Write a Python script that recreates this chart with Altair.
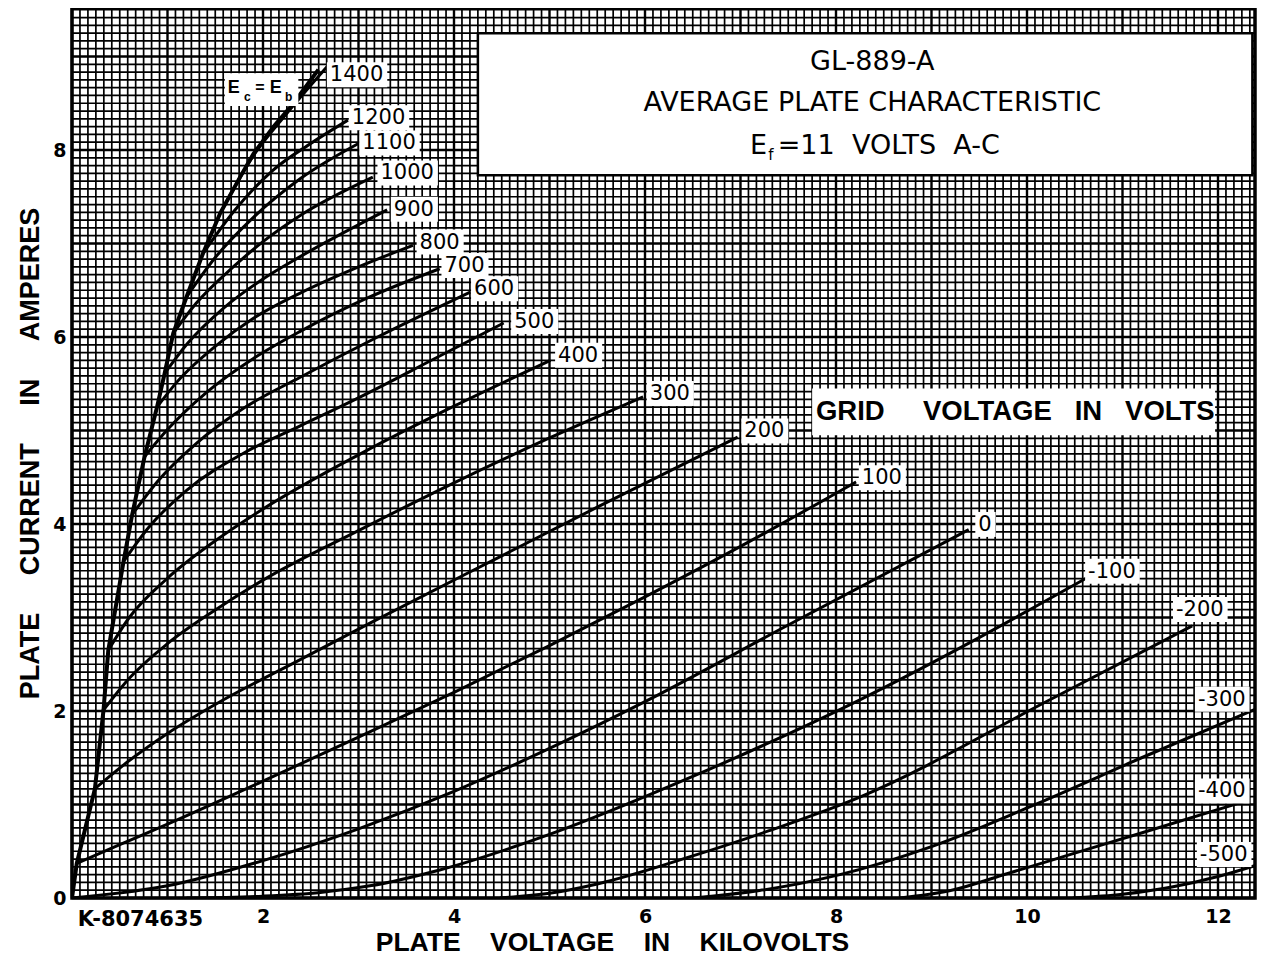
import altair as alt
import pandas as pd
import numpy as np

# ---------------- axis ranges / ticks ----------------
PX_X = 95.5            # px per kV (layout)
PX_Y = 93.5            # px per A  (layout)
PLOT_W, PLOT_H = 1183, 890
X_MAX = PLOT_W / PX_X  # kV shown
Y_MAX = PLOT_H / PX_Y  # A shown
x_tick_values = [2, 4, 6, 8, 10, 12]
y_tick_values = [0, 2, 4, 6, 8]

# ---------------- curve data (plate kV, plate A) ----------------
ecb_x = [0.0, 0.05, 0.24, 0.33, 0.38, 0.54, 0.63, 0.76, 0.89, 0.97, 1.06, 1.20, 1.37, 1.55, 1.76, 1.90, 2.11, 2.32, 2.58]
ecb_y = [0.0, 0.37, 1.17, 2.01, 2.65, 3.60, 4.10, 4.72, 5.25, 5.61, 6.04, 6.43, 6.89, 7.32, 7.71, 7.96, 8.25, 8.50, 8.86]

g1400_x = [1.55, 1.90, 2.20, 2.67]
g1400_y = [7.32, 7.94, 8.33, 8.89]
g1200_x = [1.37, 1.70, 2.10, 2.50, 2.89]
g1200_y = [6.89, 7.35, 7.78, 8.07, 8.32]
g1100_x = [1.20, 1.50, 1.90, 2.40, 3.00]
g1100_y = [6.43, 6.85, 7.28, 7.70, 8.07]
g1000_x = [1.06, 1.30, 1.70, 2.00, 2.39, 3.15]
g1000_y = [6.04, 6.36, 6.76, 7.02, 7.30, 7.71]
g900_x = [0.97, 1.20, 1.60, 2.00, 2.39, 3.30]
g900_y = [5.61, 5.92, 6.32, 6.62, 6.86, 7.36]
g800_x = [0.89, 1.10, 1.50, 1.90, 2.39, 3.00, 3.57]
g800_y = [5.25, 5.52, 5.90, 6.20, 6.47, 6.75, 6.98]
g700_x = [0.76, 1.00, 1.40, 1.90, 2.39, 3.10, 3.85]
g700_y = [4.72, 5.01, 5.40, 5.77, 6.06, 6.42, 6.73]
g600_x = [0.63, 0.90, 1.30, 1.80, 2.39, 3.20, 4.17]
g600_y = [4.10, 4.46, 4.86, 5.24, 5.57, 6.00, 6.48]
g500_x = [0.54, 0.80, 1.20, 1.80, 2.39, 3.02, 3.80, 4.52]
g500_y = [3.60, 3.96, 4.36, 4.76, 5.05, 5.36, 5.77, 6.15]
g400_x = [0.38, 0.60, 1.00, 1.50, 2.00, 3.02, 4.00, 5.01]
g400_y = [2.65, 3.00, 3.42, 3.82, 4.16, 4.75, 5.26, 5.75]
g300_x = [0.33, 0.60, 1.00, 1.50, 2.00, 3.02, 4.00, 5.00, 5.98]
g300_y = [2.01, 2.35, 2.72, 3.08, 3.40, 3.94, 4.44, 4.92, 5.36]
g200_x = [0.24, 0.60, 1.00, 1.50, 2.39, 3.12, 4.50, 5.50, 6.97]
g200_y = [1.17, 1.47, 1.76, 2.07, 2.55, 2.94, 3.66, 4.18, 4.93]
g100_x = [0.05, 0.50, 1.00, 2.00, 3.00, 4.00, 5.00, 6.00, 7.00, 8.21]
g100_y = [0.37, 0.57, 0.79, 1.25, 1.72, 2.20, 2.70, 3.22, 3.76, 4.45]
g0_x = [0.00, 1.00, 2.00, 3.00, 4.00, 5.00, 6.00, 7.50, 9.39]
g0_y = [0.00, 0.13, 0.40, 0.74, 1.14, 1.60, 2.10, 2.92, 3.94]
gm100_x = [1.20, 2.00, 2.60, 3.12, 3.85, 5.00, 6.50, 8.25, 10.62]
gm100_y = [0.00, 0.02, 0.06, 0.13, 0.30, 0.68, 1.30, 2.12, 3.42]
gm200_x = [4.48, 5.00, 5.50, 6.50, 7.30, 8.25, 10.24, 11.73]
gm200_y = [0.00, 0.05, 0.15, 0.45, 0.72, 1.08, 2.12, 2.91]
gm300_x = [6.50, 7.20, 8.04, 9.00, 10.20, 11.20, 12.46]
gm300_y = [0.00, 0.08, 0.25, 0.55, 1.05, 1.50, 2.05]
gm400_x = [8.67, 9.20, 9.79, 10.50, 11.18, 12.33]
gm400_y = [0.00, 0.08, 0.26, 0.48, 0.69, 1.05]
gm500_x = [10.48, 11.00, 11.53, 12.00, 12.46]
gm500_y = [0.00, 0.04, 0.12, 0.23, 0.37]

grid_voltages = ["1400", "1200", "1100", "1000", "900", "800", "700", "600", "500",
                 "400", "300", "200", "100", "0", "-100", "-200", "-300", "-400", "-500"]
curve_x = [g1400_x, g1200_x, g1100_x, g1000_x, g900_x, g800_x, g700_x, g600_x, g500_x,
           g400_x, g300_x, g200_x, g100_x, g0_x, gm100_x, gm200_x, gm300_x, gm400_x, gm500_x]
curve_y = [g1400_y, g1200_y, g1100_y, g1000_y, g900_y, g800_y, g700_y, g600_y, g500_y,
           g400_y, g300_y, g200_y, g100_y, g0_y, gm100_y, gm200_y, gm300_y, gm400_y, gm500_y]

# label anchor (left edge of text, vertical centre) for each grid-voltage curve
label_x = [2.70, 2.93, 3.04, 3.23, 3.37, 3.64, 3.90, 4.21, 4.63, 5.09, 6.05, 7.04, 8.27, 9.49, 10.64, 11.56, 11.79, 11.79, 11.81]
label_y = [8.80, 8.34, 8.07, 7.75, 7.36, 7.01, 6.76, 6.51, 6.16, 5.80, 5.39, 4.99, 4.49, 3.99, 3.49, 3.08, 2.12, 1.14, 0.46]

# ---------------- frames ----------------
rows = []
for name, xs_, ys_ in zip(grid_voltages, curve_x, curve_y):
    for i, (a, b) in enumerate(zip(xs_, ys_)):
        rows.append({"series": name, "i": i, "kv": a, "amp": b})
curves_df = pd.DataFrame(rows)
ecb_df = pd.DataFrame({"i": range(len(ecb_x)), "kv": ecb_x, "amp": ecb_y})


def text_w(s, size):
    return sum(0.361 if ch == "-" else 0.636 for ch in s) * size


LBL_SIZE = 21
lab_rows = []
for s, lx, ly in zip(grid_voltages, label_x, label_y):
    w = text_w(s, LBL_SIZE)
    lab_rows.append({"t": s, "x": lx, "y": ly,
                     "bx": lx - 3 / PX_X, "bx2": lx + (w + 4) / PX_X,
                     "by": ly - 12 / PX_Y, "by2": ly + 13 / PX_Y})
labels_df = pd.DataFrame(lab_rows)

# graph-paper grid
step = 1 / 12
gx = np.arange(0, X_MAX, step)
gy = np.arange(0, Y_MAX, step)
vgrid = pd.DataFrame({"v": gx, "major": [(k % 12 == 0) for k in range(len(gx))]})
hgrid = pd.DataFrame({"v": gy, "major": [(k % 12 == 0) for k in range(len(gy))]})

xs = alt.Scale(domain=[0, X_MAX], nice=False, zero=False)
ys = alt.Scale(domain=[0, Y_MAX], nice=False, zero=False)

NB = "\u00a0"
XT = "PLATE" + NB * 4 + "VOLTAGE" + NB * 4 + "IN" + NB * 4 + "KILOVOLTS"
YT = "PLATE" + NB * 5 + "CURRENT" + NB * 5 + "IN" + NB * 5 + "AMPERES"

x_axis = alt.Axis(values=x_tick_values, format="d", grid=False, ticks=False, domain=False,
                  labelFont="DejaVu Sans", labelFontWeight="bold", labelFontSize=19,
                  labelColor="black", labelPadding=9,
                  title=XT, titleFont="Liberation Sans", titleFontWeight="bold",
                  titleFontSize=26.5, titleColor="black", titleX=540, titleY=52,
                  titleBaseline="alphabetic")
y_axis = alt.Axis(values=y_tick_values, format="d", grid=False, ticks=False, domain=False,
                  labelFont="DejaVu Sans", labelFontWeight="bold", labelFontSize=19,
                  labelColor="black", labelPadding=6,
                  title=YT, titleFont="Liberation Sans", titleFontWeight="bold",
                  titleFontSize=27, titleColor="black", titlePadding=8)

base_v = alt.Chart(vgrid)
vminor = base_v.transform_filter("!datum.major").mark_rule(color="black", strokeWidth=1.7).encode(
    x=alt.X("v:Q", scale=xs, axis=x_axis))
vmajor = base_v.transform_filter("datum.major").mark_rule(color="black", strokeWidth=2.4).encode(
    x=alt.X("v:Q", scale=xs))
base_h = alt.Chart(hgrid)
hminor = base_h.transform_filter("!datum.major").mark_rule(color="black", strokeWidth=1.7).encode(
    y=alt.Y("v:Q", scale=ys, axis=y_axis))
hmajor = base_h.transform_filter("datum.major").mark_rule(color="black", strokeWidth=2.4).encode(
    y=alt.Y("v:Q", scale=ys))

curves = alt.Chart(curves_df).mark_line(color="black", strokeWidth=3, interpolate="monotone", clip=True).encode(
    x=alt.X("kv:Q", scale=xs), y=alt.Y("amp:Q", scale=ys), detail="series:N", order="i:Q")
ecb = alt.Chart(ecb_df).mark_line(color="black", strokeWidth=4, clip=True).encode(
    x=alt.X("kv:Q", scale=xs), y=alt.Y("amp:Q", scale=ys), order="i:Q")

lab_boxes = alt.Chart(labels_df).mark_rect(color="white").encode(
    x=alt.X("bx:Q", scale=xs), x2="bx2", y=alt.Y("by:Q", scale=ys), y2="by2")
lab_text = alt.Chart(labels_df).mark_text(font="DejaVu Sans", fontSize=LBL_SIZE, align="left",
                                          baseline="middle", color="black").encode(
    x=alt.X("x:Q", scale=xs), y=alt.Y("y:Q", scale=ys), text="t:N")

# title box and grid voltage box
boxes_df = pd.DataFrame({"x": [4.25, 7.75], "x2": [12.36, 11.97], "y": [7.73, 4.95], "y2": [9.25, 5.45]})
box_title = alt.Chart(boxes_df.iloc[[0]]).mark_rect(fill="white", stroke="black", strokeWidth=2.5).encode(
    x=alt.X("x:Q", scale=xs), x2="x2", y=alt.Y("y:Q", scale=ys), y2="y2")
box_grid = alt.Chart(boxes_df.iloc[[1]]).mark_rect(fill="white").encode(
    x=alt.X("x:Q", scale=xs), x2="x2", y=alt.Y("y:Q", scale=ys), y2="y2")

title_lines = ["GL-889-A", "AVERAGE PLATE CHARACTERISTIC"]
ttl_df = pd.DataFrame({"t": title_lines, "x": [8.38, 8.38], "y": [8.94, 8.50]})
ttl = alt.Chart(ttl_df).mark_text(font="DejaVu Sans", fontSize=27, align="center",
                                  baseline="middle", color="black").encode(
    x=alt.X("x:Q", scale=xs), y=alt.Y("y:Q", scale=ys), text="t:N")
ef_df = pd.DataFrame({"t": ["E", "f", "=11" + NB * 2 + "VOLTS" + NB * 2 + "A-C"],
                      "x": [7.10, 7.29, 7.39], "y": [8.04, 7.95, 8.04], "s": [27, 15, 27]})
ef = alt.Chart(ef_df).mark_text(font="DejaVu Sans", align="left", baseline="middle",
                                color="black").encode(
    x=alt.X("x:Q", scale=xs), y=alt.Y("y:Q", scale=ys), text="t:N",
    size=alt.Size("s:Q", scale=None, legend=None))

gv_df = pd.DataFrame({"t": ["GRID" + NB * 5 + "VOLTAGE" + NB * 3 + "IN" + NB * 3 + "VOLTS"],
                      "x": [7.79], "y": [5.20]})
gv = alt.Chart(gv_df).mark_text(font="Liberation Sans", fontWeight="bold", fontSize=27.5, align="left",
                                baseline="middle", color="black").encode(
    x=alt.X("x:Q", scale=xs), y=alt.Y("y:Q", scale=ys), text="t:N")

# Ec = Eb label
ecb_box_df = pd.DataFrame({"x": [1.60], "x2": [2.37], "y": [8.47], "y2": [8.82]})
ecb_box = alt.Chart(ecb_box_df).mark_rect(fill="white").encode(
    x=alt.X("x:Q", scale=xs), x2="x2", y=alt.Y("y:Q", scale=ys), y2="y2")
ecb_txt_df = pd.DataFrame({"t": ["E", "c", "=", "E", "b"],
                           "x": [1.63, 1.80, 1.92, 2.07, 2.23],
                           "y": [8.66, 8.57, 8.66, 8.66, 8.57],
                           "s": [18, 12, 16, 18, 12]})
ecb_txt = alt.Chart(ecb_txt_df).mark_text(font="Liberation Sans", fontWeight="bold", align="left",
                                          baseline="middle", color="black").encode(
    x=alt.X("x:Q", scale=xs), y=alt.Y("y:Q", scale=ys), text="t:N",
    size=alt.Size("s:Q", scale=None, legend=None))

k_df = pd.DataFrame({"t": ["K-8074635"], "x": [0.06], "y": [-0.235]})
ktxt = alt.Chart(k_df).mark_text(font="DejaVu Sans", fontWeight="bold", fontSize=21,
                                 align="left", baseline="middle", color="black").encode(
    x=alt.X("x:Q", scale=xs), y=alt.Y("y:Q", scale=ys), text="t:N")

chart = alt.layer(
    vminor, hminor, vmajor, hmajor, curves, ecb, lab_boxes, lab_text,
    box_title, box_grid, ttl, ef, gv, ecb_box, ecb_txt, ktxt
).properties(
    width=PLOT_W, height=PLOT_H,
    autosize=alt.AutoSizeParams(type="none"),
    padding={"left": 64, "top": 0, "right": 2, "bottom": 57},
    background="white",
).configure_view(stroke="black", strokeWidth=3.5)

chart.save("out.html", embed_options={"renderer": "svg", "actions": False})
